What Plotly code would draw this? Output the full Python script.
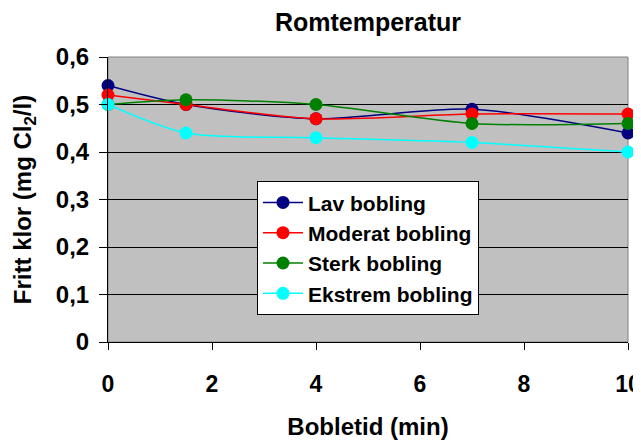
import plotly.graph_objects as go

time_min = [0, 1.5, 4, 7, 10]
series_names = ["Lav bobling", "Moderat bobling", "Sterk bobling", "Ekstrem bobling"]
lav = [0.54, 0.50, 0.47, 0.49, 0.44]
moderat = [0.52, 0.50, 0.47, 0.48, 0.48]
sterk = [0.50, 0.51, 0.50, 0.46, 0.46]
ekstrem = [0.50, 0.44, 0.43, 0.42, 0.40]
colors = ["#000080", "#FF0000", "#008000", "#00FFFF"]

y_ticks = [0, 0.1, 0.2, 0.3, 0.4, 0.5, 0.6]
y_ticktext = ["0", "0,1", "0,2", "0,3", "0,4", "0,5", "0,6"]
x_ticks = [0, 2, 4, 6, 8, 10]
x_ticktext = ["0", "2", "4", "6", "8", "10"]

font_family = "Liberation Sans, Arial, sans-serif"

fig = go.Figure()
for name, vals, col in zip(series_names, [lav, moderat, sterk, ekstrem], colors):
    fig.add_trace(go.Scatter(
        x=time_min, y=vals, name=name, mode="lines+markers",
        line=dict(color=col, width=1.5, shape="spline", smoothing=0.8),
        marker=dict(color=col, size=13),
        cliponaxis=False,
    ))

fig.update_layout(
    width=633, height=433,
    paper_bgcolor="white", plot_bgcolor="#C0C0C0",
    margin=dict(l=100, r=13, t=49, b=99, autoexpand=False),
    font=dict(family=font_family, color="black", weight="bold"),
    title=dict(text="Romtemperatur", x=0.5, xref="paper", xanchor="center",
               y=1 - 14 / 433, yref="container", yanchor="middle",
               font=dict(size=25, weight="bold")),
    legend=dict(x=0.2865, y=0.564, xanchor="left", yanchor="top",
                bgcolor="white", bordercolor="black", borderwidth=1,
                font=dict(size=21, family=font_family, weight="bold"),
                tracegroupgap=0, itemwidth=40),
    showlegend=True,
)

fig.update_xaxes(
    range=[0, 10], tickvals=x_ticks, ticktext=x_ticktext,
    ticks="outside", ticklen=7, automargin=False, ticklabeloverflow="allow",
    tickcolor="black", showline=True, linecolor="black", linewidth=1,
    showgrid=False, zeroline=False, mirror=False,
    tickfont=dict(size=23, family=font_family, weight="bold"),
    ticklabelstandoff=14,
    title=dict(text="Bobletid (min)", font=dict(size=24, weight="bold"), standoff=22),
)
fig.update_yaxes(
    range=[0, 0.6], tickvals=y_ticks, ticktext=y_ticktext,
    ticks="outside", ticklen=8, tickcolor="black", automargin=False,
    ticklabeloverflow="allow",
    showline=True, linecolor="black", linewidth=1,
    showgrid=True, gridcolor="black", gridwidth=1, zeroline=False,
    tickfont=dict(size=24, family=font_family, weight="bold"),
    ticklabelstandoff=5,
    title=dict(text="Fritt klor (mg Cl<sub>2</sub>/l)", font=dict(size=24, weight="bold"), standoff=17),
)

fig.add_shape(type="rect", xref="paper", yref="paper", x0=0, y0=0, x1=1, y1=1,
              line=dict(color="#808080", width=1), layer="below")

fig.write_html("out.html")
